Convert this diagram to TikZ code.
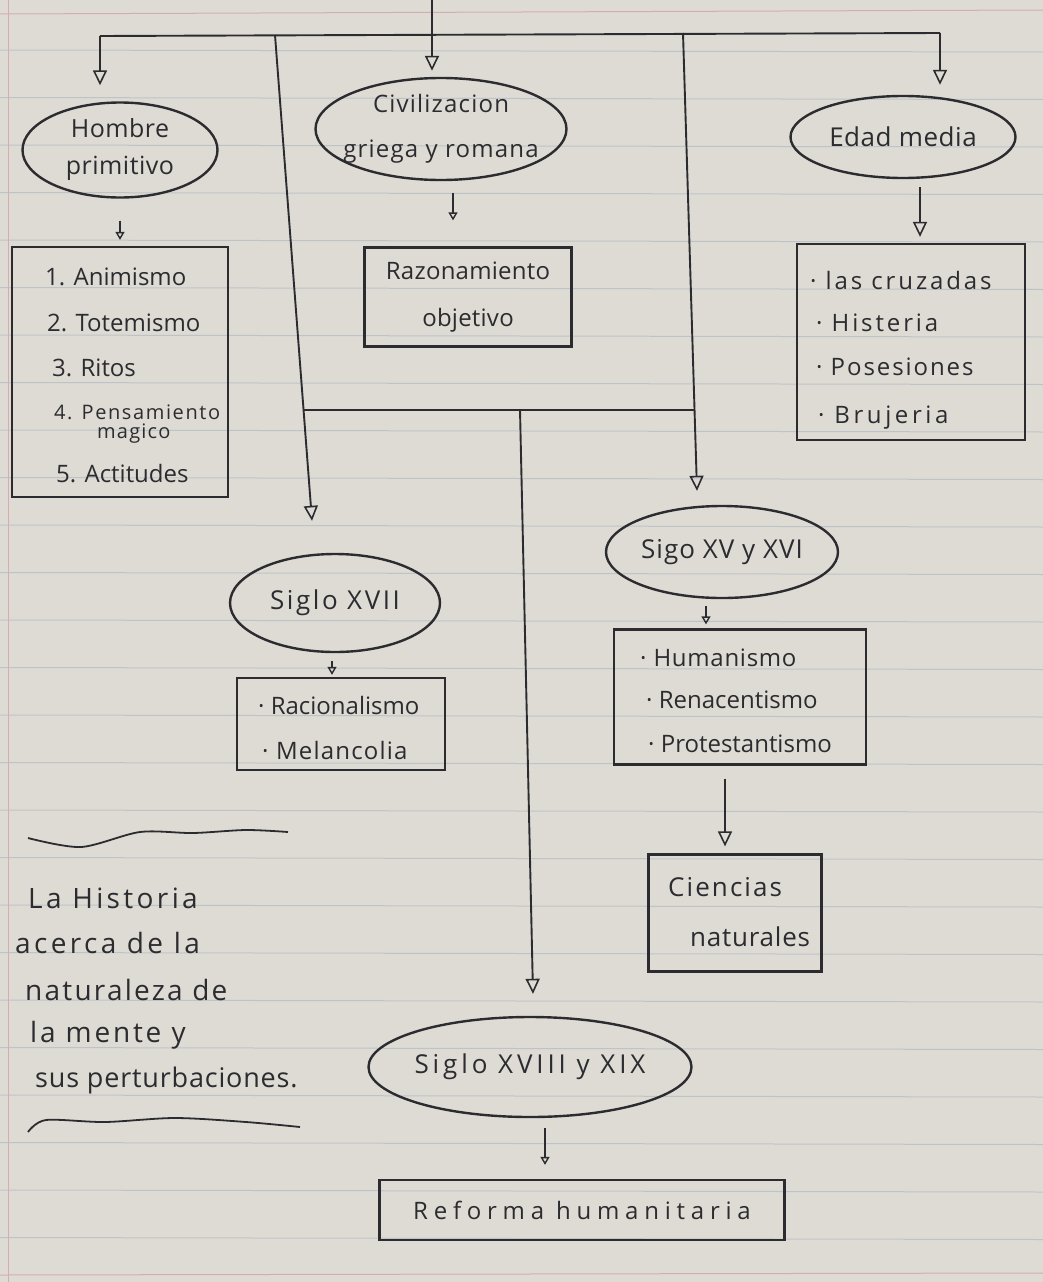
\documentclass[tikz,border=0pt]{standalone}
\usepackage{fontspec}
\setmainfont{Open Sans}
\usetikzlibrary{shapes.geometric,arrows.meta}
\definecolor{paper}{RGB}{222,219,212}
\definecolor{rulec}{RGB}{190,195,200}
\definecolor{marginc}{RGB}{214,172,174}
\definecolor{ink}{RGB}{44,44,48}
\newcommand{\handfnt}[3]{\fontsize{#1}{#2}\selectfont\addfontfeature{LetterSpace=#3}}
\begin{document}
\begin{tikzpicture}[x=1pt,y=-1pt,
  oval/.style={ellipse, draw=ink, line width=2.4pt, inner sep=0pt, align=center, text=ink},
  boxn/.style={rectangle, draw=ink, line width=2.3pt, inner sep=0pt, align=center, text=ink},
  item/.style={anchor=west, inner sep=0pt, text=ink},
  hand/.style={anchor=west, inner sep=0pt, text=ink},
  conn/.style={draw=ink, line width=1.9pt},
  bigarr/.style={conn, -{Triangle[open, length=15pt, width=14pt, line width=1.6pt]}},
  smallarr/.style={conn, -{Triangle[open, length=8pt, width=9pt, line width=1.4pt]}},
  wave/.style={draw=ink, line width=1.8pt}
]
\useasboundingbox (0,0) rectangle (1043,1282);
\fill[paper] (0,0) rectangle (1043,1282);
\foreach \k in {0,...,25} \draw[rulec, line width=1pt] (0,{50+47.5*\k}) -- (1043,{52+47.5*\k});
\draw[marginc, line width=1pt] (8,0) -- (8,1282);
\draw[marginc, line width=1pt] (0,14) -- (1043,10);
\draw[marginc, line width=1pt] (0,1275) -- (1043,1273);

% top level ovals
\node[oval, minimum width=195pt, minimum height=95pt, font=\handfnt{25}{37}{2}] (hom) at (120,150) {Hombre\\primitivo};
\node[oval, inner xsep=-14pt, inner ysep=-6pt, minimum width=251pt, minimum height=102pt, font=\handfnt{24}{45}{5}] (civ) at (441,129) {Civilizacion\\griega y romana};
\node[oval, minimum width=225pt, minimum height=82pt, font=\handfnt{26}{30}{2}] (edad) at (903,137) {Edad media};

% boxes under top level
\node[boxn, minimum width=216pt, minimum height=250pt] (hbox) at (120,372) {};
\node[item, font=\handfnt{24}{28}{0}] (h1) at (45,277) {1. Animismo};
\node[item, font=\handfnt{24}{28}{0}] (h2) at (47,323) {2. Totemismo};
\node[item, font=\handfnt{24}{28}{0}] (h3) at (52,368) {3. Ritos};
\node[item, font=\handfnt{20}{24}{8}] (h4) at (54,412) {4. Pensamiento};
\node[item, font=\handfnt{20}{24}{6}] (h4b) at (97,434) {magico};
\node[item, font=\handfnt{24}{28}{0}] (h5) at (56,474) {5. Actitudes};

\node[boxn, minimum width=207pt, minimum height=99pt, font=\handfnt{24}{47}{1}] (rbox) at (468,297) {Razonamiento\\objetivo};

\node[boxn, minimum width=228pt, minimum height=196pt] (ebox) at (911,342) {};
\node[item, font=\handfnt{24}{28}{12}] (e1) at (810,280) {· las cruzadas};
\node[item, font=\handfnt{24}{28}{12}] (e2) at (816,323) {· Histeria};
\node[item, font=\handfnt{24}{28}{8}] (e3) at (816,367) {· Posesiones};
\node[item, font=\handfnt{24}{28}{15}] (e4) at (818,418) {· Brujeria};

% second level
\node[oval, minimum width=210pt, minimum height=98pt, font=\handfnt{26}{30}{10}] (s17) at (335,603) {Siglo XVII};
\node[boxn, minimum width=208pt, minimum height=92pt] (s17box) at (341,724) {};
\node[item, font=\handfnt{24}{28}{0}] (r1) at (258,705) {· Racionalismo};
\node[item, font=\handfnt{24}{28}{5}] (r2) at (262,750) {· Melancolia};

\node[oval, minimum width=232pt, minimum height=92pt, font=\handfnt{26}{30}{4}] (s15) at (722,552) {Sigo XV y XVI};
\node[boxn, minimum width=252pt, minimum height=135pt] (s15box) at (740,697) {};
\node[item, font=\handfnt{24}{28}{3}] (p1) at (640,658) {· Humanismo};
\node[item, font=\handfnt{24}{28}{0}] (p2) at (646,700) {· Renacentismo};
\node[item, font=\handfnt{24}{28}{0}] (p3) at (648,744) {· Protestantismo};

\node[boxn, minimum width=173pt, minimum height=117pt] (cien) at (735,913) {};
\node[item, font=\handfnt{26}{30}{8}] (c1) at (668,887) {Ciencias};
\node[item, font=\handfnt{26}{30}{3}] (c2) at (690,937) {naturales};

\node[oval, inner xsep=-6pt, minimum width=323pt, minimum height=100pt, font=\handfnt{26}{30}{15}] (s18) at (530,1067) {Siglo XVIII y XIX};
\node[boxn, minimum width=405pt, minimum height=60pt, font=\handfnt{24}{28}{24}] (ref) at (582,1210) {Reforma humanitaria};

% left text
\node[hand, font=\handfnt{28}{32}{12}] (t1) at (28,898) {La Historia};
\node[hand, font=\handfnt{28}{32}{12}] (t2) at (15,943) {acerca de la};
\node[hand, font=\handfnt{28}{32}{8}] (t3) at (25,990) {naturaleza de};
\node[hand, font=\handfnt{28}{32}{10}] (t4) at (30,1035) {la mente y};
\node[hand, font=\handfnt{27}{32}{3}] (t5) at (35,1080) {sus perturbaciones.};
\draw[wave] plot[smooth] coordinates {(28,838) (81,847) (140,832) (193,833) (246,830) (288,832)};
\draw[wave] plot[smooth] coordinates {(28,1132) (46,1120) (105,1122) (175,1118) (246,1122) (300,1127)};

% connectors
\coordinate (top) at (432,0);
\coordinate (barL) at (100,36);
\coordinate (barR) at (940,33);
\coordinate (vL) at (275,35);
\coordinate (vR) at (683,33);
\coordinate (mL) at (304,410);
\coordinate (mR) at (694,410);
\coordinate (mD) at (520,410);
\draw[conn] (barL) -- (barR);
\draw[bigarr, shorten >=6pt] (top) -- (civ.north -| top);
\draw[bigarr, shorten >=16pt] (barL) -- (hom.north -| barL);
\draw[bigarr, shorten >=10pt] (barR) -- (edad.north -| barR);
\draw[bigarr] (vL) -- ([xshift=-23pt,yshift=32pt]s17.north);
\draw[bigarr] (vR) -- ([xshift=-25pt,yshift=14pt]s15.north);
\draw[conn] (mL) -- (mR);
\draw[bigarr] (mD) -- ([xshift=3pt,yshift=22pt]s18.north);

\draw[smallarr, shorten <=22pt, shorten >=6pt] (hom.south) -- (hbox.north);
\draw[smallarr, shorten <=12pt, shorten >=26pt] ([xshift=12pt]civ.south) -- ([xshift=-15pt]rbox.north);
\draw[bigarr, shorten <=8pt, shorten >=6pt] ([xshift=17pt]edad.south) -- ([xshift=9pt]ebox.north);
\draw[smallarr, shorten <=8pt, shorten >=2pt] ([xshift=-3pt]s17.south) -- ([xshift=-9pt]s17box.north);
\draw[smallarr, shorten <=7pt, shorten >=4pt] ([xshift=-16pt]s15.south) -- ([xshift=-34pt]s15box.north);
\draw[bigarr, shorten <=13pt, shorten >=7pt] ([xshift=-15pt]s15box.south) -- ([xshift=-10pt]cien.north);
\draw[smallarr, shorten <=10pt, shorten >=14pt] ([xshift=15pt]s18.south) -- ([xshift=-37pt]ref.north);
\end{tikzpicture}
\end{document}
